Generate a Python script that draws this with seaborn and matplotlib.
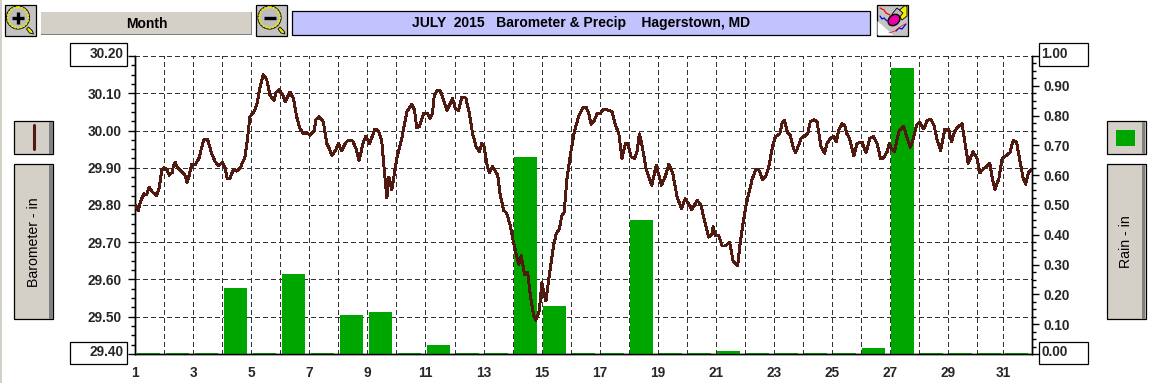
import numpy as np
import matplotlib
matplotlib.use("Agg")
import matplotlib.pyplot as plt
from matplotlib.patches import Rectangle, Circle, Polygon, Ellipse
from matplotlib.ticker import MultipleLocator
import seaborn as sns

sns.set_style("white")
plt.rcParams['font.family'] = ['Liberation Sans', 'DejaVu Sans']

# barometer trace
baro_days = [1.00,1.10,1.18,1.30,1.39,1.48,1.60,1.74,1.83,1.91,2.00,2.10,2.17,2.28,2.31,2.37,2.45,2.60,2.71,2.78,
             2.86,2.94,3.08,3.20,3.29,3.37,3.49,3.63,3.75,3.86,4.00,4.09,4.17,4.26,4.38,4.49,4.63,4.78,4.86,4.95,
             5.09,5.20,5.28,5.41,5.53,5.64,5.78,5.85,5.95,6.08,6.16,6.33,6.45,6.56,6.68,6.79,6.91,7.02,7.16,7.23,
             7.34,7.48,7.60,7.71,7.77,7.89,8.00,8.11,8.23,8.34,8.49,8.61,8.71,8.86,8.95,9.07,9.26,9.38,9.49,9.57,
             9.67,9.74,9.84,10.01,10.18,10.36,10.53,10.62,10.70,10.79,
             10.93,11.05,11.16,11.24,11.30,11.39,11.51,11.62,11.74,11.85,11.93,12.02,12.14,12.25,12.39,12.51,12.62,
             12.74,12.86,12.94,13.02,13.11,13.20,13.31,13.49,13.57,13.69,13.80,13.92,14.03,14.15,14.21,14.30,14.41,
             14.52,14.61,14.72,14.80,14.92,15.01,15.09,15.15,15.24,15.41,15.51,15.61,15.70,15.78,15.87,15.99,16.13,
             16.28,16.43,16.53,16.62,16.71,16.82,16.91,17.02,17.11,17.23,17.43,17.54,17.66,17.77,17.89,17.97,18.08,
             18.20,18.29,18.37,18.46,18.61,18.80,18.95,19.13,19.26,19.39,19.52,19.67,19.82,19.95,20.13,20.18,20.36,
             20.49,20.64,20.76,20.87,20.91,20.99,21.10,21.22,21.33,21.48,21.60,21.76,
             21.83,21.94,22.06,22.17,22.25,22.37,22.48,22.62,22.74,22.83,22.97,23.06,23.21,23.29,23.37,23.48,23.57,
             23.66,23.75,23.86,23.94,24.09,24.18,24.26,24.38,24.49,24.63,24.75,24.84,24.95,25.07,25.16,25.24,25.36,
             25.44,25.51,25.61,25.76,25.87,26.05,26.18,26.31,26.43,26.56,26.68,26.77,26.91,26.98,27.06,27.16,27.31,
             27.48,27.60,27.71,27.80,27.92,28.02,28.17,28.29,28.40,28.52,28.63,28.75,28.90,29.03,29.13,29.23,29.34,
             29.49,29.61,29.70,29.87,30.01,30.10,30.24,30.45,30.51,30.62,30.76,30.87,30.99,31.14,31.25,31.37,31.51,
             31.60,31.68,31.79,31.89]
baro_vals = [29.800,29.785,29.810,29.830,29.827,29.848,29.834,29.825,29.848,29.893,29.900,29.893,29.880,29.888,29.906,
             29.915,29.900,29.890,29.880,29.861,29.880,29.909,29.909,29.927,29.956,29.976,29.976,29.938,29.917,29.905,
             29.914,29.902,29.870,29.872,29.895,29.891,29.902,29.929,29.974,30.037,30.050,30.073,30.109,30.150,30.136,
             30.095,30.080,30.102,30.109,30.097,30.077,30.103,30.086,30.037,30.004,29.992,29.994,29.987,29.999,30.030,
             30.037,30.023,29.965,29.947,29.933,29.945,29.965,29.945,29.965,29.974,29.972,29.951,29.920,29.969,29.985,
             29.965,30.004,29.999,29.974,29.902,29.819,29.875,29.841,29.924,29.978,30.050,30.070,30.055,30.007,30.010,
             30.045,30.047,30.033,30.045,30.092,30.107,30.107,30.083,30.054,30.072,30.087,30.060,30.054,30.090,30.087,
             30.047,29.993,29.957,29.943,29.966,29.957,29.912,29.886,29.903,29.880,29.830,29.786,29.778,29.745,29.700,
             29.660,29.641,29.664,29.614,29.619,29.560,29.506,29.490,29.515,29.592,29.560,29.542,29.596,29.690,29.724,
             29.736,29.772,29.781,29.867,29.934,29.997,30.038,30.063,30.063,30.047,30.017,30.027,30.045,30.045,30.056,
             30.056,30.051,30.015,29.993,29.925,29.966,29.966,29.930,29.925,29.943,29.991,29.961,29.894,29.853,29.907,
             29.853,29.876,29.910,29.885,29.822,29.790,29.817,29.795,29.787,29.813,29.800,29.750,29.714,29.721,29.742,
             29.718,29.718,29.690,29.690,29.700,29.650,29.637,
             29.690,29.750,29.804,29.840,29.867,29.894,29.896,29.867,29.880,29.903,29.961,29.984,29.991,30.020,30.027,
             29.993,29.988,29.957,29.940,29.961,29.979,29.986,29.993,30.024,30.029,30.024,29.957,29.939,29.966,29.979,
             29.984,29.970,30.002,30.018,30.015,29.993,29.979,29.932,29.966,29.968,29.940,29.979,29.984,29.966,29.925,
             29.925,29.943,29.966,29.952,29.943,29.997,30.011,29.979,29.955,29.975,30.015,30.022,30.004,30.027,30.031,
             30.015,29.975,29.946,30.004,30.002,29.970,29.997,30.009,30.018,29.957,29.912,29.943,29.925,29.886,29.898,
             29.912,29.880,29.842,29.871,29.925,29.932,29.940,29.973,29.968,29.907,29.871,29.856,29.889,29.895]

# daily rain, a dry day still shows a hairline of green
rain_vals = [0.004,0.004,0.004,0.22,0.004,0.27,0.004,0.13,0.14,0.004,0.03,0.004,0.004,0.66,0.16,0.004,
             0.004,0.45,0.004,0.004,0.01,0.004,0.004,0.004,0.004,0.02,0.96,0.004,0.004,0.004,0.004]

# the last two day marks sit a little closer together in the original
day_ticks = list(range(1, 31)) + [30.91, 31.89]
day_labels = ['1', '', '3', '', '5', '', '7', '', '9', '', '11', '', '13', '', '15', '', '17', '', '19', '', '21', '',
              '23', '', '25', '', '27', '', '29', '', '31', '']
baro_ticks = [29.4, 29.5, 29.6, 29.7, 29.8, 29.9, 30.0, 30.1, 30.2]
rain_ticks = [0.0, 0.1, 0.2, 0.3, 0.4, 0.5, 0.6, 0.7, 0.8, 0.9, 1.0]
title = "JULY  2015   Barometer & Precip    Hagerstown, MD"

BROWN = "#501A10"
GREEN = "#00A600"
FACE = "#D4D0C8"
W, H = 1150, 383

fig = plt.figure(figsize=(W / 100, H / 100), dpi=100, facecolor="white")

# three layers: grid and barometer scale, then the bars, then the trace
ax_baro = fig.add_axes([135.3 / W, (H - 354) / H, 896.4 / W, 298 / H])
ax_rain = ax_baro.twinx()
ax_line = ax_baro.twinx()

bar_pos = np.array(day_ticks[:31]) + 0.45
sns.barplot(x=bar_pos, y=rain_vals, ax=ax_rain, native_scale=True, width=0.868, color=GREEN,
            saturation=1, linewidth=0)
sns.lineplot(x=baro_days, y=baro_vals, ax=ax_line, sort=False, estimator=None, color=BROWN,
             linewidth=1.4, antialiased=False)

ax_baro.set_xlim(1, 31.89)
ax_baro.set_ylim(29.4, 30.2)
ax_line.set_ylim(29.4, 30.2)
ax_rain.set_ylim(0, 1)
ax_baro.set_xticks(day_ticks)
ax_baro.set_xticklabels(day_labels, fontsize=9.8, fontweight="bold")
ax_baro.set_yticks(baro_ticks)
ax_baro.set_yticklabels([''] + ['%.2f' % t for t in baro_ticks[1:-1]] + [''], fontsize=9.8, fontweight="bold")
ax_rain.set_yticks(rain_ticks)
ax_rain.set_yticklabels([''] + ['%.2f' % t for t in rain_ticks[1:-1]] + [''], fontsize=9.8, fontweight="bold")
ax_baro.yaxis.set_minor_locator(MultipleLocator(0.025))
ax_rain.yaxis.set_minor_locator(MultipleLocator(0.025))
ax_line.set_yticks([])

for a in (ax_baro, ax_rain, ax_line):
    a.set_xlabel("")
    a.set_ylabel("")

ax_baro.set_axisbelow(True)
ax_baro.grid(True, axis="both", color="#333333", linewidth=0.8, linestyle=(0, (4, 3.2)), antialiased=False)
ax_rain.grid(False)
ax_line.grid(False)
ax_baro.set_zorder(1)
ax_rain.set_zorder(2)
ax_line.set_zorder(3)
ax_rain.patch.set_visible(False)
ax_line.patch.set_visible(False)

ax_baro.tick_params(axis="both", which="major", direction="out", length=5, width=1, color="black", pad=5)
ax_baro.tick_params(axis="x", which="major", pad=3.8)
ax_rain.tick_params(axis="y", which="major", direction="out", length=5, width=1, color="black", pad=3.8)
for a in (ax_baro, ax_rain):
    a.tick_params(axis="y", which="minor", direction="out", length=2.8, width=1, color="black")
    a.spines["top"].set_visible(False)
    for s in ("left", "right", "bottom"):
        a.spines[s].set_visible(True)
        a.spines[s].set_color("black")
        a.spines[s].set_linewidth(1)
ax_line.axis("off")

# window furniture on top, in pixel coordinates
ui = fig.add_axes([0, 0, 1, 1], zorder=5)
ui.set_xlim(0, W)
ui.set_ylim(H, 0)
ui.axis("off")


def box(x0, y0, x1, y1, fc="white", ec="black", lw=0.9, z=1):
    ui.add_patch(Rectangle((x0, y0), x1 - x0, y1 - y0, fc=fc, ec=ec, lw=lw, zorder=z))


def button(x0, y0, x1, y1):
    box(x0, y0, x1, y1, fc=FACE)
    box(x1 - 4, y0 + 1, x1 - 0.5, y1 - 0.5, fc="#808080", ec="none", lw=0, z=2)


def magnifier(x0, sign):
    box(x0, 4.5, x0 + 31.3, 35.5, fc="#C4C4C4")
    ui.add_patch(Polygon([[x0 + 24, 27], [x0 + 28, 31], [x0 + 29, 34], [x0 + 25, 33], [x0 + 22, 29]],
                         fc="#E8E800", ec="black", lw=0.6, zorder=2))
    ui.add_patch(Circle((x0 + 13.5, 17.5), 11.5, fc="#BDBDBD", ec="black", lw=0.8, zorder=3))
    ui.add_patch(Circle((x0 + 13.5, 17.5), 10.3, fc="none", ec="#E8E800", lw=1.5, ls=(0, (1, 0.5)), zorder=4))
    ui.plot([x0 + 7.5, x0 + 19.5], [17.5, 17.5], color="black", lw=2.4, solid_capstyle="butt", zorder=5)
    if sign == "+":
        ui.plot([x0 + 13.5, x0 + 13.5], [11.5, 23.5], color="black", lw=2.4, solid_capstyle="butt", zorder=5)


# left edge of the window
ui.add_patch(Rectangle((0, 0), 2, H, fc=FACE, ec="none", zorder=1))

magnifier(4.5, "+")
magnifier(256, "-")

box(40.6, 11.7, 251.6, 35, fc="#808080", ec="none", lw=0)
box(40.6, 11.7, 250.6, 34, fc=FACE, ec="none", lw=0, z=2)
ui.text(147, 24, "Month", ha="center", va="center", fontsize=10, fontweight="bold", color="black", zorder=3)

box(292, 11.3, 870, 35, fc="#C2C2FF")
ui.text(581, 23.5, title, ha="center", va="center", fontsize=10, fontweight="bold", color="black", zorder=3)

# eraser icon
box(876.7, 4.5, 907.7, 35.5, fc="#C4C4C4")
ui.add_patch(Polygon([[877.5, 35], [877.5, 21], [893, 35]], fc="white", ec="none", zorder=2))
ui.plot([880, 884, 886, 890], [8, 10, 13, 15], color="red", lw=0.9, zorder=3)
ui.plot([880, 882, 884, 887], [16, 19, 18, 21], color="#0000E0", lw=0.9, zorder=3)
ui.plot([896, 899, 902, 906], [31, 28, 29, 24], color="#0000E0", lw=0.9, zorder=3)
ui.plot([889, 895, 900, 905], [33, 31, 27, 24], color="red", lw=0.5, zorder=3)
ui.add_patch(Polygon([[897, 12], [905, 5.5], [907, 7], [907, 16], [902, 20]], fc="#F0F000", ec="black", lw=0.6, zorder=4))
ui.add_patch(Polygon([[892, 14], [897, 8], [903, 13], [898, 19]], fc="#BBBBBB", ec="black", lw=0.6, zorder=5))
ui.add_patch(Ellipse((894, 20), 13, 10, angle=-40, fc="#E800A0", ec="black", lw=1, zorder=6))

# boxed end values of both scales
box(70.3, 43.3, 126.7, 66)
box(70.3, 341.7, 126.7, 364.3)
box(1039.3, 43.3, 1087.7, 66)
box(1039.3, 341.7, 1087.7, 364.3)
ui.text(124, 54.3, '%.2f' % baro_ticks[-1], ha="right", va="center", fontsize=9.8, fontweight="bold", zorder=3)
ui.text(124, 352.3, '%.2f' % baro_ticks[0], ha="right", va="center", fontsize=9.8, fontweight="bold", zorder=3)
ui.text(1041.5, 54.3, '%.2f' % rain_ticks[-1], ha="left", va="center", fontsize=9.8, fontweight="bold", zorder=3)
ui.text(1041.5, 352.3, '%.2f' % rain_ticks[0], ha="left", va="center", fontsize=9.8, fontweight="bold", zorder=3)

# side buttons
button(14.3, 121, 53.3, 154.3)
ui.plot([34.3, 34.3], [125, 149], color=BROWN, lw=2.2, zorder=3)
button(14.3, 164.3, 53.3, 319.3)
ui.text(34, 241.7, "Barometer - in", rotation=90, ha="center", va="center", fontsize=10.2, color="black", zorder=3)

button(1106.7, 121, 1145.7, 154.3)
box(1116, 130, 1135, 145.7, fc=GREEN, ec="none", lw=0, z=3)
button(1106.7, 164.3, 1145.7, 319.3)
ui.text(1125.7, 242, "Rain - in", rotation=90, ha="center", va="center", fontsize=10.2, color="black", zorder=3)

fig.savefig("out.png", dpi=100)
